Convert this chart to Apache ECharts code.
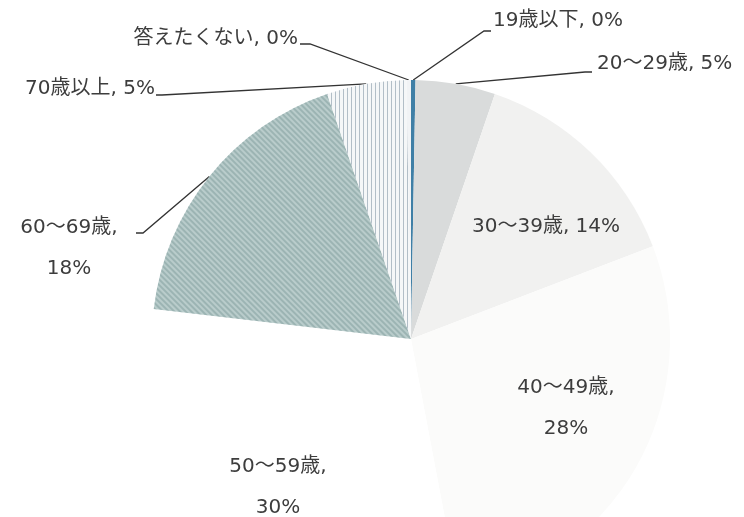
<!DOCTYPE html>
<html>
<head>
<meta charset="utf-8">
<script src="https://cdn.jsdelivr.net/npm/echarts@6/dist/echarts.min.js"></script>
<style>
  html, body { margin: 0; padding: 0; background: #ffffff; }
  #chart { width: 744px; height: 517px; }
</style>
</head>
<body>
<div id="chart"></div>
<script>
// Respondent age groups (share of respondents, %)
const categories = ['19歳以下', '20～29歳', '30～39歳', '40～49歳', '50～59歳', '60～69歳', '70歳以上', '答えたくない'];
const shares = [0, 5, 14, 28, 30, 18, 5, 0];

// Slice fills
const sliceColors = ['#3f7fa6', '#d9dbdb', '#f1f1f0', '#fbfbfa', '#ffffff', '#b9cccb', '#f5f7f8', '#f1f3f5'];

// Where each label sits, and the bend of its leader line
const labelSpots = [
  { x: 493, y: 21, align: 'left', line: [[484, 31], [491, 31]] },
  { x: 597, y: 64, align: 'left', line: [[585, 72], [592, 72]] },
  { x: 472, y: 227, align: 'left' },
  { x: 566, y: 408, align: 'center' },
  { x: 278, y: 487, align: 'center' },
  { x: 69, y: 248, align: 'center', line: [[143, 233], [136, 233]] },
  { x: 155, y: 89, align: 'right', line: [[162, 95], [156, 95]] },
  { x: 298, y: 39, align: 'right', line: [[310, 44], [300, 44]] }
];
const twoLine = [false, false, false, true, true, true, false, false];

// Hatched fills for the 60s and 70+ slices
const decals = {
  5: { color: 'rgba(120,150,150,0.45)', dashArrayX: [1, 0], dashArrayY: [1.5, 1.5], rotation: Math.PI / 4 },
  6: { color: 'rgba(150,165,178,0.7)', dashArrayX: [1, 0], dashArrayY: [1, 3], rotation: Math.PI / 2 }
};

const pieData = categories.map(function (name, i) {
  const item = {
    name: name,
    value: shares[i],
    itemStyle: { color: sliceColors[i] }
  };
  if (decals[i]) item.itemStyle.decal = decals[i];
  if (!labelSpots[i].line) item.labelLine = { show: false };
  return item;
});

const chart = echarts.init(document.getElementById('chart'), null, { renderer: 'canvas' });
chart.setOption({
  backgroundColor: '#ffffff',
  animation: false,
  series: [{
    type: 'pie',
    center: [411, 339],
    radius: 259,
    startAngle: 90,
    clockwise: true,
    minAngle: 1,
    avoidLabelOverlap: false,
    silent: true,
    itemStyle: { borderWidth: 0 },
    label: {
      show: true,
      position: 'outside',
      color: '#3d3d3d',
      fontSize: 20,
      lineHeight: 41,
      fontFamily: '"DejaVu Sans", "Noto Sans CJK JP", sans-serif',
      formatter: function (p) {
        return p.name + ',' + (twoLine[p.dataIndex] ? '\n' : ' ') + p.value + '%';
      }
    },
    labelLine: {
      show: true,
      length: 20,
      length2: 10,
      lineStyle: { color: '#333333', width: 1.3 }
    },
    labelLayout: function (p) {
      const spot = labelSpots[p.dataIndex];
      const res = { x: spot.x, y: spot.y, align: spot.align, verticalAlign: 'middle' };
      if (spot.line && p.labelLinePoints && p.labelLinePoints.length) {
        res.labelLinePoints = [p.labelLinePoints[0], spot.line[0], spot.line[1]];
      }
      return res;
    },
    data: pieData
  }]
});
</script>
</body>
</html>
